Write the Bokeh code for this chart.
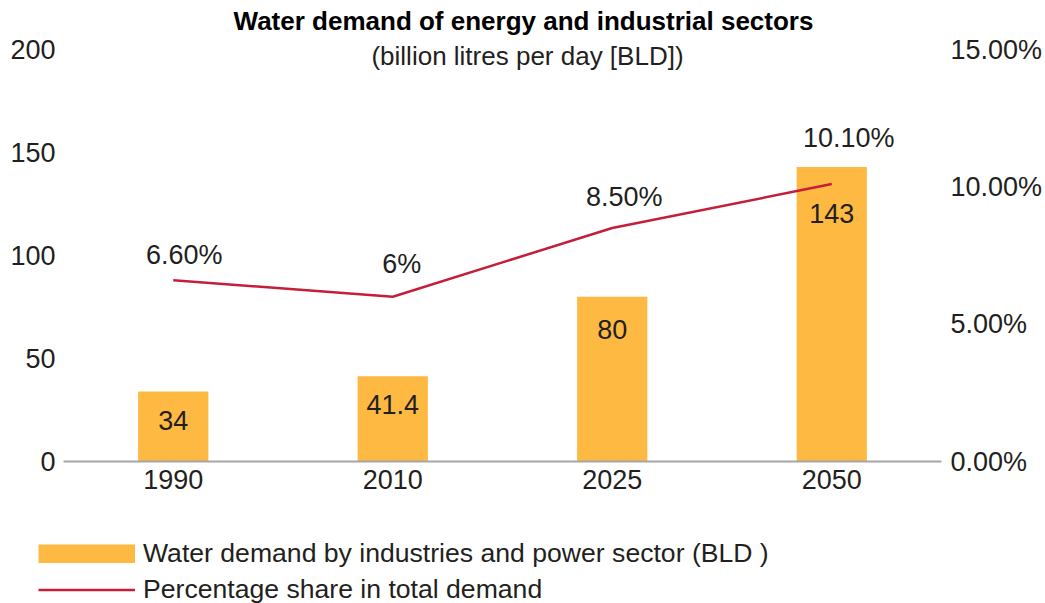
from bokeh.plotting import figure
from bokeh.models import (FactorRange, Range1d, LinearAxis, FixedTicker, PrintfTickFormatter,
                          Label, Legend, LegendItem, ColumnDataSource)
from bokeh.core.properties import value
from bokeh.embed import file_html
from bokeh.resources import INLINE

# ---- data ----
years = ["1990", "2010", "2025", "2050"]
demand_bld = [34, 41.4, 80, 143]
demand_labels = ["34", "41.4", "80", "143"]
share_pct = [6.6, 6.0, 8.5, 10.1]
share_labels = ["6.60%", "6%", "8.50%", "10.10%"]
left_ticks = [0, 50, 100, 150, 200]
right_ticks = [0, 5, 10, 15]

title_text = "Water demand of energy and industrial sectors"
subtitle_text = "(billion litres per day [BLD])"
legend_bar = "Water demand by industries and power sector (BLD )"
legend_line = "Percentage share in total demand"

# ---- style ----
FONT = "Liberation Sans"
TXT = "#231F20"
BAR = "#FDB942"
LINE = "#C41E3A"
AX = "#A6A6A6"
NUM_SIZE = "27px"
# cosmetic label offsets (px)
bar_label_dy = [29, 28, 33, 47]
pct_label_dx = [11, 9, 12, 17]
pct_label_dy = [25, 33, 31, 46]

# layout: frame bottom (y=0) at 461px, 200 at 49px, frame top at canvas top
W = 1045
H_MAIN = 510
H_LEG = 93
FRAME_BOTTOM = 461
PX_PER_UNIT = (461 - 49) / 200.0
y_top = 200 + 49 / PX_PER_UNIT
pct_per_unit = 15.0 / 200.0

p = figure(x_range=FactorRange(factors=years, range_padding=0),
           y_range=Range1d(0, y_top),
           width=W, height=H_MAIN,
           min_border_left=63, min_border_right=102,
           min_border_top=0, min_border_bottom=H_MAIN - FRAME_BOTTOM,
           output_backend="svg", toolbar_location=None)
p.extra_y_ranges = {"pct": Range1d(0, y_top * pct_per_unit)}

p.outline_line_color = None
p.xgrid.grid_line_color = None
p.ygrid.grid_line_color = None
p.background_fill_color = "white"
p.border_fill_color = "white"


def style_axis(ax, standoff):
    ax.major_tick_line_color = None
    ax.minor_tick_line_color = None
    ax.major_tick_out = 0
    ax.major_tick_in = 0
    ax.minor_tick_out = 0
    ax.minor_tick_in = 0
    ax.major_label_standoff = standoff
    ax.major_label_text_font = FONT
    ax.major_label_text_font_size = NUM_SIZE
    ax.major_label_text_color = TXT


# left axis
ya = p.yaxis[0]
ya.ticker = FixedTicker(ticks=left_ticks)
ya.axis_line_color = None
style_axis(ya, 8)

# right axis
ra = LinearAxis(y_range_name="pct", ticker=FixedTicker(ticks=right_ticks),
                formatter=PrintfTickFormatter(format="%.2f%%"))
ra.axis_line_color = None
style_axis(ra, 9)
p.add_layout(ra, "right")

# x axis
xa = p.xaxis[0]
xa.axis_line_color = AX
xa.axis_line_width = 2
style_axis(xa, 8)

src = ColumnDataSource(dict(years=years, demand=demand_bld, dlab=demand_labels,
                            share=share_pct, slab=share_labels,
                            bdy=bar_label_dy,
                            pdx=pct_label_dx, pdy=[-d for d in pct_label_dy]))

p.vbar(x="years", top="demand", width=0.32, source=src,
       fill_color=BAR, line_color=None)
p.line(x="years", y="share", source=src, y_range_name="pct",
       line_color=LINE, line_width=2.5)

p.text(x="years", y="demand", text="dlab", source=src, y_offset="bdy",
       text_align="center", text_baseline="middle",
       text_font=value(FONT), text_font_size=NUM_SIZE, text_color=TXT)
p.text(x="years", y="share", text="slab", source=src, y_range_name="pct",
       x_offset="pdx", y_offset="pdy",
       text_align="center", text_baseline="middle",
       text_font=value(FONT), text_font_size=NUM_SIZE, text_color=TXT)

# titles (screen units relative to frame bottom-left)
p.add_layout(Label(x=460, y=FRAME_BOTTOM - 20, x_units="screen", y_units="screen", text=title_text,
                   text_align="center", text_baseline="middle", text_font=FONT,
                   text_font_style="bold", text_font_size="26px", text_color="#000000"))
p.add_layout(Label(x=464, y=FRAME_BOTTOM - 55, x_units="screen", y_units="screen", text=subtitle_text,
                   text_align="center", text_baseline="middle", text_font=FONT,
                   text_font_size="26px", text_color=TXT))

# ---- legend strip (separate root so its frame spans the full width) ----
lg = figure(width=W, height=H_LEG, min_border=0, output_backend="svg",
            toolbar_location=None, x_range=Range1d(0, 1), y_range=Range1d(0, 1),
            x_axis_location=None, y_axis_location=None)
lg.grid.visible = False
lg.outline_line_color = None
lg.border_fill_color = "white"
swatch = ColumnDataSource(dict(x=[0], y=[0]))
sw_bar = lg.line(x="x", y="y", source=swatch, line_color=BAR, line_width=19,
                 line_cap="butt", visible=False)
sw_line = lg.line(x="x", y="y", source=swatch, line_color=LINE, line_width=2.5,
                  visible=False)

legend = Legend(items=[LegendItem(label=legend_bar, renderers=[sw_bar]),
                       LegendItem(label=legend_line, renderers=[sw_line])],
                location=(38, -2), orientation="vertical",
                glyph_width=97, glyph_height=19, label_standoff=8,
                label_height=28, spacing=5, padding=0, margin=0,
                border_line_color=None, background_fill_alpha=0,
                label_text_font=FONT, label_text_font_size="26.6px",
                label_text_color=TXT)
lg.add_layout(legend)

open("out.html", "w").write(file_html([p, lg], INLINE))
